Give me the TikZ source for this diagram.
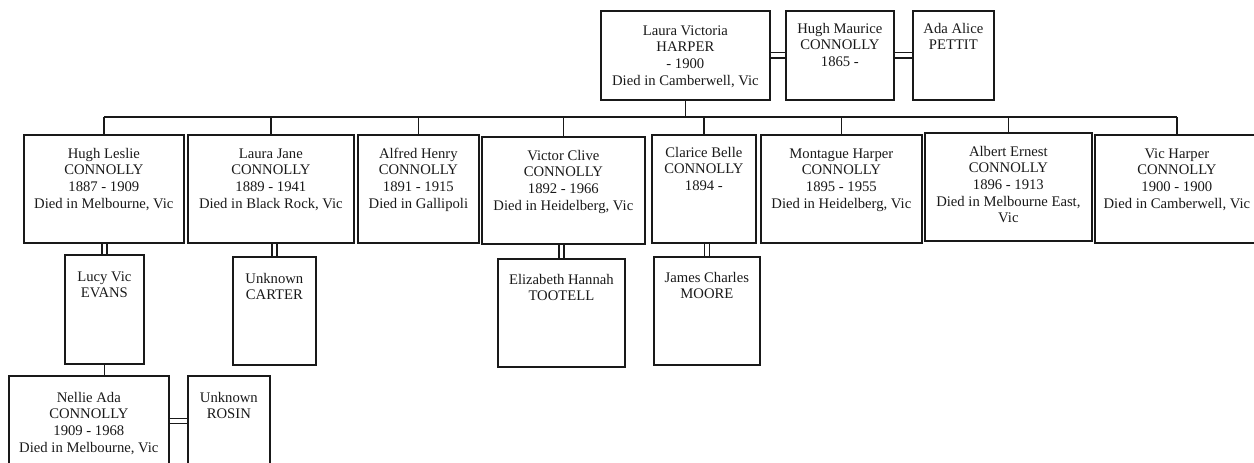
\documentclass[tikz,border=0pt]{standalone}
\usepackage{fontspec}
\setmainfont{Liberation Serif}
\usepackage{xcolor}

\newdimen\px \px=0.75pt
% box of given width/height (px) with text set from the top
\newcommand{\pers}[4]{\parbox[t][#2\px][t]{#1\px}{\centering\vspace*{#3\px}\strut #4}}

\begin{document}
\begin{tikzpicture}[x=0.75pt,y=-0.75pt,
  person/.style={draw=black!90, line width=1.3pt, inner sep=0pt, anchor=north west,
    text=black!90, font=\fontsize{11}{12.4}\selectfont},
  spouse/.style={draw=black!90, double, line width=1pt, double distance=2.8pt},
  link/.style={draw=black!90, line width=1.2pt}]
\useasboundingbox (0,0) rectangle (1254,463);

% parents
\node[person] (laura) at (600,10) {\pers{169}{89}{13}{Laura Victoria\\HARPER\\- 1900\\Died in Camberwell, Vic}};
\node[person] (hughM) at (785,10) {\pers{108}{89}{11}{Hugh Maurice\\CONNOLLY\\1865 -}};
\node[person] (ada) at (912,10) {\pers{81}{89}{11}{Ada Alice\\PETTIT}};

% children
\node[person] (hughL) at (23,134) {\pers{160}{108}{12}{Hugh Leslie\\CONNOLLY\\1887 - 1909\\Died in Melbourne, Vic}};
\node[person] (lauraJ) at (187,134) {\pers{166}{108}{12}{Laura Jane\\CONNOLLY\\1889 - 1941\\Died in Black Rock, Vic}};
\node[person] (alfred) at (357,134) {\pers{121}{108}{12}{Alfred Henry\\CONNOLLY\\1891 - 1915\\Died in Gallipoli}};
\node[person] (victor) at (481,136) {\pers{163}{107}{12}{Victor Clive\\CONNOLLY\\1892 - 1966\\Died in Heidelberg, Vic}};
\node[person] (clarice) at (651,134) {\pers{104}{108}{11}{Clarice Belle\\CONNOLLY\\1894 -}};
\node[person] (montague) at (760,134) {\pers{161}{108}{12}{Montague Harper\\CONNOLLY\\1895 - 1955\\Died in Heidelberg, Vic}};
\node[person] (albert) at (924,132) {\pers{167}{108}{12}{Albert Ernest\\CONNOLLY\\1896 - 1913\\Died in Melbourne East,\\Vic}};
\node[person] (vicH) at (1094,134) {\pers{164}{108}{12}{Vic Harper\\CONNOLLY\\1900 - 1900\\Died in Camberwell, Vic}};

% spouses
\node[person] (lucy) at (64,254) {\pers{79}{109}{15}{Lucy Vic\\EVANS}};
\node[person] (carter) at (232,256) {\pers{83}{108}{15}{Unknown\\CARTER}};
\node[person] (elizabeth) at (497,258) {\pers{127}{108}{14}{Elizabeth Hannah\\TOOTELL}};
\node[person] (james) at (653,256) {\pers{106}{108}{14}{James Charles\\MOORE}};

% grandchild
\node[person] (nellie) at (8,375) {\pers{160}{90}{15}{Nellie Ada\\CONNOLLY\\1909 - 1968\\Died in Melbourne, Vic}};
\node[person] (rosin) at (187,375) {\pers{82}{90}{15}{Unknown\\ROSIN}};

% marriages
\draw[spouse] (laura.east) -- (hughM.west);
\draw[spouse] (hughM.east) -- (ada.west);
\draw[spouse] (lucy.north) -- (lucy.north |- hughL.south);
\draw[spouse] (carter.north) -- (carter.north |- lauraJ.south);
\draw[spouse] (elizabeth.north) -- (elizabeth.north |- victor.south);
\draw[spouse] (james.north) -- (james.north |- clarice.south);
\draw[spouse] (nellie.east) -- (rosin.west);

% descent
\coordinate (bar) at (0,117);
\draw[link] (laura.south) -- (laura.south |- bar);
\draw[link] (hughL.north |- bar) -- (vicH.north |- bar);
\foreach \c in {hughL,lauraJ,alfred,victor,clarice,montague,albert,vicH}
  \draw[link] (\c.north) -- (\c.north |- bar);
\draw[link] (lucy.south) -- (lucy.south |- nellie.north);

\end{tikzpicture}
\end{document}
